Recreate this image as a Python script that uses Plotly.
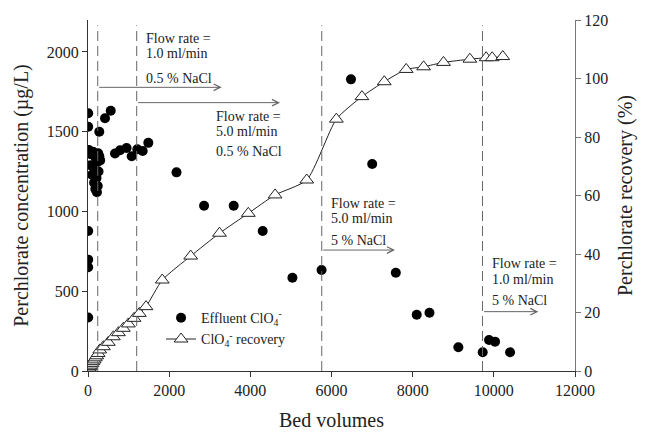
import plotly.graph_objects as go

# Effluent perchlorate concentration (ug/L) vs bed volumes
eff_bv = [5, 5, 5, 5, 5, 5,
          20, 70, 120, 180, 250, 300, 280, 230, 60, 160, 260, 100, 210, 150, 240, 180, 220,
          278, 419, 560, 665, 790, 950, 1077, 1215, 1347, 1486,
          2181, 2860, 3590, 4305, 5037, 5755, 6480, 7003, 7585,
          8100, 8414, 9126, 9726, 9882, 10030, 10400]
eff_conc = [1615, 1531, 877, 698, 650, 335,
            1385, 1360, 1375, 1340, 1365, 1320, 1345, 1310, 1290, 1270, 1250, 1230, 1210, 1180, 1160, 1140, 1120,
            1500, 1584, 1631, 1363, 1384, 1398, 1346, 1390, 1379, 1430,
            1245, 1036, 1036, 877, 585, 633, 1828, 1297, 616,
            353, 365, 149, 117, 194, 184, 117]

# Cumulative perchlorate recovery (%) vs bed volumes
rec_bv = [0, 15, 30, 50, 70, 95, 120, 150, 180, 215, 250,
          290, 380, 500, 625, 750, 870, 995, 1135, 1265, 1430,
          1830, 2530, 3240, 3950, 4610, 5390, 6120, 6750, 7300,
          7840, 8270, 8760, 9410, 9810, 9960, 10220]
rec_pct = [0, 0.5, 1.0, 1.5, 2.0, 2.6, 3.2, 3.8, 4.5, 5.2, 6.0,
           7.2, 8.3, 9.8, 11.7, 13.1, 14.6, 16.1, 18.0, 19.7, 22.0,
           31.1, 39.3, 47.1, 53.9, 60.2, 65.3, 86.1, 93.8, 98.9,
           103.1, 104.0, 105.5, 106.6, 107.1, 107.1, 107.5]

# Operating-condition changes (bed volumes)
switch_bv = [240, 1200, 5760, 9720]
rate_labels = ["1.0 ml/min", "5.0 ml/min", "5.0 ml/min", "1.0 ml/min"]
nacl_labels = ["0.5 % NaCl", "0.5 % NaCl", "5 % NaCl", "5 % NaCl"]

x_ticks = [0, 2000, 4000, 6000, 8000, 10000, 12000]
y_ticks = [0, 500, 1000, 1500, 2000]
y2_ticks = [0, 20, 40, 60, 80, 100, 120]

FONT = "Liberation Serif"
TXT = "#222"

fig = go.Figure()

fig.add_trace(go.Scatter(
    x=eff_bv, y=eff_conc, mode="markers",
    name="Effluent ClO<sub>4</sub><sup>-</sup>",
    marker=dict(symbol="circle", size=10, color="black"),
    legendgroup="a",
))
fig.add_trace(go.Scatter(
    x=rec_bv, y=rec_pct, mode="lines+markers", yaxis="y2",
    name="ClO<sub>4</sub><sup>-</sup> recovery",
    line=dict(color="#222", width=1, shape="spline", smoothing=0.6),
    marker=dict(symbol="triangle-up", size=12, color="white",
                line=dict(color="#222", width=1)),
    legendgroup="b",
))

shapes = []
for bv in switch_bv:
    shapes.append(dict(type="line", xref="x", yref="paper", x0=bv, x1=bv,
                       y0=0, y1=0.985,
                       line=dict(color="#666", width=1, dash="10px,5px")))

annotations = []
# label blocks: x start, then y of the three text lines (left-axis units)
label_pos = [(1323, 2081, 1991, 1835), (3048, 1594, 1504, 1374),
             (5882, 1051, 959, 817), (9864, 671, 575, 445)]
arrow_pos = [(240, 3295, 1778), (1200, 4731, 1682), (5760, 7565, 758), (9720, 11097, 372)]
for (lx, y1, y2, y3), rtxt, ntxt in zip(label_pos, rate_labels, nacl_labels):
    for yy, txt in ((y1, "Flow rate ="), (y2, rtxt), (y3, ntxt)):
        annotations.append(dict(x=lx, y=yy, xref="x", yref="y", text=txt, showarrow=False,
                                xanchor="left", yanchor="middle", align="left", xshift=2,
                                font=dict(family=FONT, size=14, color=TXT)))
for x0, x1, y in arrow_pos:
    annotations.append(dict(x=x1, y=y, ax=x0, ay=y, xref="x", yref="y",
                            axref="x", ayref="y", text="", showarrow=True,
                            arrowhead=5, arrowsize=1.3, arrowwidth=1,
                            arrowcolor="#666"))

fig.update_layout(
    width=646, height=435,
    margin=dict(l=88, r=71, t=20, b=64, autoexpand=False),
    paper_bgcolor="white", plot_bgcolor="white",
    font=dict(family=FONT, size=16, color=TXT),
    showlegend=True,
    legend=dict(x=0.15, y=0.196, xanchor="left", yanchor="top",
                bgcolor="rgba(0,0,0,0)", font=dict(family=FONT, size=14, color=TXT),
                tracegroupgap=0, itemwidth=30),
    xaxis=dict(range=[0, 12000], tickvals=x_ticks, tickformat="d", showgrid=False,
               zeroline=False, showline=True, linecolor="#333", linewidth=1,
               ticks="outside", ticklen=5, tickcolor="#333", automargin=False,
               tickfont=dict(family=FONT, size=16, color=TXT),
               title=dict(text="Bed volumes", font=dict(family=FONT, size=20, color=TXT),
                          standoff=14)),
    yaxis=dict(range=[0, 2200], tickvals=y_ticks, showgrid=False, zeroline=False,
               showline=True, linecolor="#333", linewidth=1, ticks="outside",
               ticklen=5, tickcolor="#333", automargin=False,
               tickfont=dict(family=FONT, size=16, color=TXT),
               title=dict(text="Perchlorate concentration (µg/L)",
                          font=dict(family=FONT, size=20, color=TXT), standoff=12)),
    yaxis2=dict(range=[0, 120], tickvals=y2_ticks, overlaying="y", side="right",
                showgrid=False, zeroline=False, showline=True, linecolor="#777",
                linewidth=1, ticks="outside", ticklen=5, tickcolor="#777",
                automargin=False,
                tickfont=dict(family=FONT, size=16, color=TXT),
                title=dict(text="Perchlorate recovery (%)",
                           font=dict(family=FONT, size=20, color=TXT), standoff=10)),
    shapes=shapes,
    annotations=annotations,
)

fig.write_html("out.html")
